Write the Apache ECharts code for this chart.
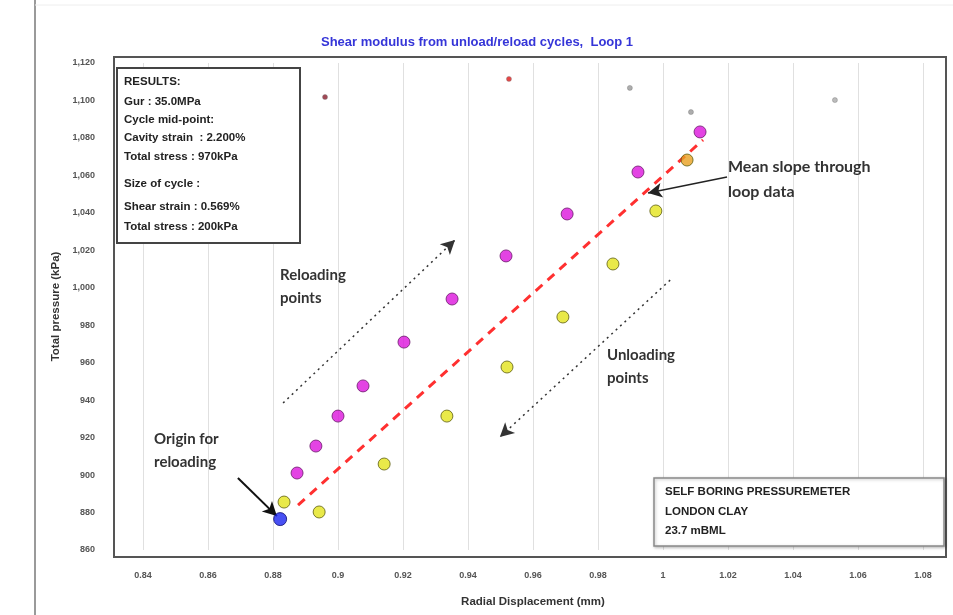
<!DOCTYPE html>
<html><head><meta charset="utf-8">
<script src="https://cdn.jsdelivr.net/npm/echarts@6/dist/echarts.min.js"></script>
<style>html,body{margin:0;padding:0;background:#fff}#c{width:953px;height:615px}</style>
</head><body><div id="c"></div>
<script>
// ---- data ----
const xTicks = [0.84, 0.86, 0.88, 0.9, 0.92, 0.94, 0.96, 0.98, 1, 1.02, 1.04, 1.06, 1.08];
const yTicks = [860, 880, 900, 920, 940, 960, 980, 1000, 1020, 1040, 1060, 1080, 1100, 1120];
const reloadX = [0.8874, 0.8932, 0.9000, 0.9077, 0.9203, 0.9351, 0.9517, 0.9705, 0.9923, 1.0114];
const reloadY = [901.1, 915.5, 931.5, 947.6, 971.0, 994.0, 1017.0, 1039.4, 1061.8, 1083.2];
const unloadX = [1.0074, 0.9978, 0.9846, 0.9692, 0.9520, 0.9335, 0.9142, 0.8942, 0.8834];
const unloadY = [1068.2, 1041.0, 1012.7, 984.4, 957.7, 931.5, 905.9, 880.3, 885.6];
const originX = [0.8822];
const originY = [876.5];
const slopeX = [0.8877, 1.0123];
const slopeY = [884.0, 1078.9];
const strayX = [0.8960, 0.9526, 0.9898, 1.0086, 1.0529];
const strayY = [1101.8, 1111.5, 1106.7, 1093.8, 1100.2];
// annotation arrows (data space): [x1, y1, x2, y2]
const arrowReload = [0.8831, 938.5, 0.9360, 1025.5];
const arrowUnload = [1.0022, 1004.1, 0.9498, 920.3];
const arrowMean = [1.0197, 1059.1, 0.9954, 1050.6];
const arrowOrigin = [0.8692, 898.4, 0.8812, 878.1];
const resultsLines = ['RESULTS:', 'Gur : 35.0MPa', 'Cycle mid-point:', 'Cavity strain  : 2.200%', 'Total stress : 970kPa', 'Size of cycle :', 'Shear strain : 0.569%', 'Total stress : 200kPa'];
const siteLines = ['SELF BORING PRESSUREMETER', 'LONDON CLAY', '23.7 mBML'];

const zip = (a, b) => a.map((v, i) => [v, b[i]]);
const strayColors = ['#8a1a2a', '#e01818', '#999999', '#999999', '#aaaaaa'];

function arrow(a, type, color, width) {
  return {
    type: 'scatter', data: [], silent: true,
    markLine: {
      silent: true, symbol: ['none', 'arrow'], symbolSize: [11, 14], label: {show: false},
      lineStyle: {type: type, color: color, width: width},
      data: [[{coord: [a[0], a[1]]}, {coord: [a[2], a[3]]}]]
    }
  };
}

const chart = echarts.init(document.getElementById('c'));
const annFont = {fontFamily: 'Lato', fontWeight: 'bold', fontSize: 15, fill: '#333', lineHeight: 23};
const boxFont = {fontFamily: 'Liberation Sans', fontWeight: 'bold', fontSize: 11.5, fill: '#222'};
const resultsTops = [76, 96, 114, 132, 151, 178, 201, 221];

chart.setOption({
  animation: false,
  backgroundColor: '#fff',
  title: {
    text: 'Shear modulus from unload/reload cycles,  Loop 1',
    left: 316, top: 31,
    textStyle: {color: '#3535d8', fontSize: 13, fontWeight: 'bold', fontFamily: 'Liberation Sans'}
  },
  grid: {left: 143, right: 30, top: 63, bottom: 65},
  xAxis: {
    type: 'value', min: xTicks[0], max: xTicks[xTicks.length - 1], interval: 0.02,
    name: 'Radial Displacement (mm)', nameLocation: 'middle', nameGap: 46,
    nameTextStyle: {fontSize: 11.5, fontWeight: 'bold', color: '#333', fontFamily: 'Liberation Sans'},
    axisLine: {show: false}, axisTick: {show: false},
    axisLabel: {margin: 21, fontSize: 9, fontWeight: 'bold', color: '#555', fontFamily: 'Liberation Sans',
      formatter: v => String(parseFloat(v.toFixed(2)))},
    splitLine: {show: true, lineStyle: {color: '#e0e0e0', width: 1}}
  },
  yAxis: {
    type: 'value', min: yTicks[0], max: yTicks[yTicks.length - 1], interval: 20,
    name: 'Total pressure (kPa)', nameLocation: 'middle', nameGap: 80,
    nameTextStyle: {fontSize: 11.5, fontWeight: 'bold', color: '#333', fontFamily: 'Liberation Sans'},
    axisLine: {show: false}, axisTick: {show: false},
    axisLabel: {margin: 48, fontSize: 9, fontWeight: 'bold', color: '#555', fontFamily: 'Liberation Sans',
      formatter: v => v >= 1000 ? '1,' + String(Math.round(v - 1000)).padStart(3, '0') : String(v)},
    splitLine: {show: false}
  },
  graphic: {
    elements: [
      {type: 'line', z: 100, shape: {x1: 35, y1: 0, x2: 35, y2: 615}, style: {stroke: '#9a9a9a', lineWidth: 2}},
      {type: 'line', z: 100, shape: {x1: 35, y1: 5, x2: 953, y2: 5}, style: {stroke: '#eeeeee', lineWidth: 1}},
      {type: 'rect', z: 100, shape: {x: 114, y: 57, width: 832, height: 500}, style: {fill: 'none', stroke: '#555', lineWidth: 2}},
      {type: 'rect', z: 100, shape: {x: 117, y: 68, width: 183, height: 175}, style: {fill: '#fff', stroke: '#444', lineWidth: 2}},
      ...resultsLines.map((t, i) => ({type: 'text', z: 101, x: 124, y: resultsTops[i], style: Object.assign({text: t}, boxFont)})),
      {type: 'rect', z: 100, shape: {x: 654, y: 478, width: 290, height: 68}, style: {fill: '#fff', stroke: '#8a8a8a', lineWidth: 1.5, shadowColor: 'rgba(0,0,0,0.25)', shadowBlur: 3, shadowOffsetX: 1, shadowOffsetY: 1}},
      ...siteLines.map((t, i) => ({type: 'text', z: 101, x: 665, y: 486 + i * 19.5, style: Object.assign({text: t}, boxFont)})),
      {type: 'text', x: 280, y: 264, z: 100, style: Object.assign({text: 'Reloading\npoints'}, annFont)},
      {type: 'text', x: 607, y: 344, z: 100, style: Object.assign({text: 'Unloading\npoints'}, annFont)},
      {type: 'text', x: 728, y: 154, z: 100, style: Object.assign({text: 'Mean slope through\nloop data'}, annFont, {fontSize: 16, lineHeight: 25})},
      {type: 'text', x: 154, y: 428, z: 100, style: Object.assign({text: 'Origin for\nreloading'}, annFont)}
    ]
  },
  series: [
    {type: 'scatter', name: 'stray', data: zip(strayX, strayY).map((d, i) => ({value: d, itemStyle: {color: strayColors[i]}})),
      symbol: 'circle', symbolSize: 5, itemStyle: {borderColor: '#777', borderWidth: 0.5}},
    {type: 'line', name: 'Mean slope', data: zip(slopeX, slopeY), showSymbol: false, symbol: 'none',
      lineStyle: {color: '#ff3030', width: 3, type: [9, 7]}, z: 2},
    arrow(arrowReload, [2, 4], '#333', 1.5),
    arrow(arrowUnload, [2, 4], '#333', 1.5),
    arrow(arrowMean, 'solid', '#222', 1.5),
    arrow(arrowOrigin, 'solid', '#111', 2),
    {type: 'scatter', name: 'Reloading', data: zip(reloadX, reloadY), symbol: 'circle', symbolSize: 12, z: 5,
      itemStyle: {color: '#dc14dc', borderColor: '#6a1a6a', borderWidth: 1}},
    {type: 'scatter', name: 'Unloading', data: zip(unloadX, unloadY).map((d, i) => i === 0 ? {value: d, itemStyle: {color: '#e8a020'}} : d),
      symbol: 'circle', symbolSize: 12, z: 5,
      itemStyle: {color: '#e4e41c', borderColor: '#5e5e10', borderWidth: 1}},
    {type: 'scatter', name: 'Origin', data: zip(originX, originY), symbol: 'circle', symbolSize: 13, z: 6,
      itemStyle: {color: '#1a24f0', borderColor: '#0c0c70', borderWidth: 1}}
  ]
});
</script>
</body></html>
